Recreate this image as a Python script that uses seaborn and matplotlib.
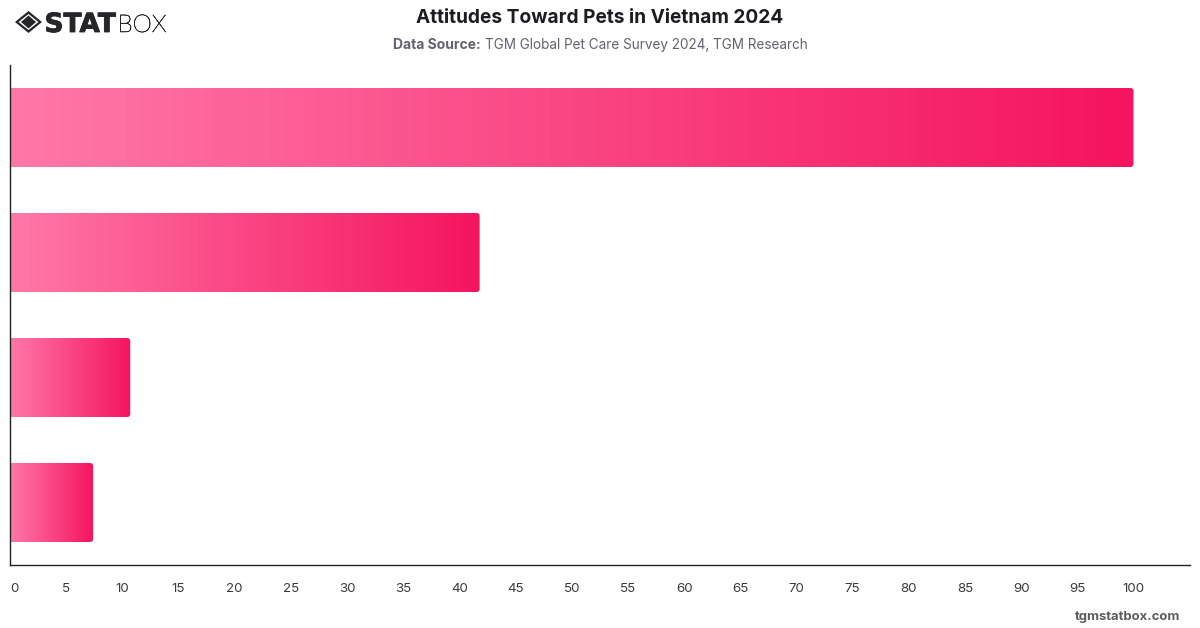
import numpy as np
import pandas as pd
import matplotlib
matplotlib.use("Agg")
import matplotlib.pyplot as plt
import matplotlib.patheffects as pe
from matplotlib.colors import LinearSegmentedColormap
from matplotlib.patches import Polygon
from matplotlib.path import Path
from matplotlib.patches import PathPatch
import seaborn as sns

categories = ["A", "B", "C", "D"]
values = [100, 41.8, 10.7, 7.4]
tick_values = list(range(0, 101, 5))
title_text = "Attitudes Toward Pets in Vietnam 2024"
source_label = "Data Source:"
source_text = "TGM Global Pet Care Survey 2024, TGM Research"
site_text = "tgmstatbox.com"

W, H = 1200, 628
sns.set_theme(style="white")
plt.rcParams["font.family"] = ["Inter", "DejaVu Sans"]

fig = plt.figure(figsize=(W / 100, H / 100), dpi=100, facecolor="white")
ax = fig.add_axes([10 / W, 1 - 565 / H, (1190 - 10) / W, 500 / H])

df = pd.DataFrame({"category": categories, "value": values})
sns.barplot(data=df, x="value", y="category", orient="h", width=0.632,
            color="#f5145f", ax=ax, saturation=1)

ax.set_xlim(0, 105.03)
ax.set_ylim(3.5, -0.5)
ax.set_xlabel("")
ax.set_ylabel("")
ax.set_yticks([])
ax.set_xticks(tick_values)
ax.tick_params(axis="x", length=0, pad=13, labelsize=9.6, labelcolor="#3a3a3a")
ax.get_xticklabels()[0].set_ha("left")
ax.grid(False)
for side in ("top", "right"):
    ax.spines[side].set_visible(False)
for side in ("left", "bottom"):
    ax.spines[side].set_color("#222222")
    ax.spines[side].set_linewidth(1.0)

# Each bar is repainted with a horizontal gradient, clipped to a shape
# whose right-hand corners are slightly rounded.
cmap = LinearSegmentedColormap.from_list("pink", ["#ff78a8", "#f5145f"])
ramp = np.linspace(0, 1, 256).reshape(1, -1)
rx = 3 / 11.225
ry = 3 / 125
for bar in list(ax.patches):
    x0, y0 = bar.get_x(), bar.get_y()
    x1, y1 = x0 + bar.get_width(), y0 + bar.get_height()
    bar.set_visible(False)
    verts = [(x0, y0), (x1 - rx, y0), (x1, y0), (x1, y0 + ry), (x1, y1 - ry),
             (x1, y1), (x1 - rx, y1), (x0, y1), (x0, y0)]
    codes = [Path.MOVETO, Path.LINETO, Path.CURVE3, Path.CURVE3, Path.LINETO,
             Path.CURVE3, Path.CURVE3, Path.LINETO, Path.CLOSEPOLY]
    clip = PathPatch(Path(verts, codes), transform=ax.transData,
                     facecolor="none", edgecolor="none")
    ax.add_patch(clip)
    im = ax.imshow(ramp, extent=(x0, x1, y1, y0), cmap=cmap, aspect="auto",
                   interpolation="bilinear", zorder=2)
    im.set_clip_path(clip)
ax.set_xlim(0, 105.03)
ax.set_ylim(3.5, -0.5)

# Full-figure overlay in pixel units for the header and footer.
ov = fig.add_axes([0, 0, 1, 1], facecolor="none")
ov.set_xlim(0, W)
ov.set_ylim(H, 0)
ov.axis("off")

ov.text(600, 18, title_text, ha="center", va="center", fontsize=13.75,
        fontweight="bold", color="#1c1c1e")

renderer = fig.canvas.get_renderer()
lab = ov.text(393, 45, source_label, ha="left", va="center", fontsize=10,
              fontweight="bold", color="#62626e")
w = lab.get_window_extent(renderer).width
ov.text(393 + w + 4, 45, source_text, ha="left", va="center", fontsize=9.76,
        color="#62626e")

ov.text(1180, 617, site_text, ha="right", va="center", fontsize=9.4,
        fontweight="bold", color="#5c5c5c")

# Logo: nested diamond mark with the two-weight wordmark beside it.
cx, cy = 28.5, 22
ov.add_patch(Polygon([(cx - 13.5, cy), (cx, cy - 11), (cx + 13.5, cy), (cx, cy + 11)],
                     closed=True, facecolor="#26262a", edgecolor="none"))
ov.add_patch(Polygon([(cx - 10, cy), (cx, cy - 8), (cx + 10, cy), (cx, cy + 8)],
                     closed=True, facecolor="white", edgecolor="none"))
ov.add_patch(Polygon([(cx - 7.5, cy), (cx, cy - 6.5), (cx + 7.5, cy), (cx, cy + 6.5)],
                     closed=True, facecolor="#26262a", edgecolor="none"))
ov.text(44.5, 32, "STAT", ha="left", va="baseline", fontsize=19,
        family=["DejaVu Sans"], fontweight="bold", color="#26262a",
        path_effects=[pe.withStroke(linewidth=0.6, foreground="#26262a")])
ov.text(117.5, 32, "BOX", ha="left", va="baseline", fontsize=17.6,
        family=["Lato", "DejaVu Sans"], fontweight="light", color="#26262a",
        path_effects=[pe.withStroke(linewidth=0.4, foreground="#26262a")])

fig.savefig("out.png", dpi=100, facecolor="white")
